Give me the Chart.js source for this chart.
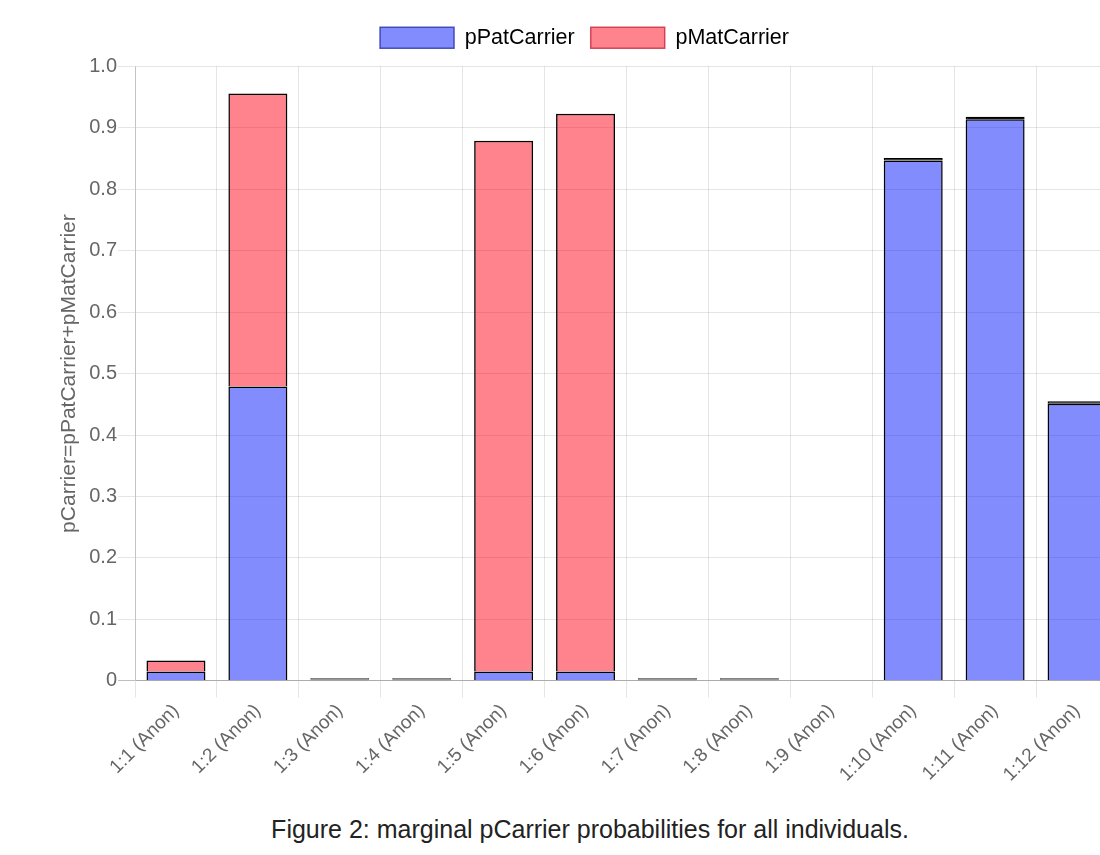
<!DOCTYPE html>
<html>
<head>
<meta charset="utf-8">
<script src="https://cdn.jsdelivr.net/npm/chart.js@4/dist/chart.umd.min.js"></script>
<style>
  html, body { margin: 0; padding: 0; background: #fff; overflow: hidden; width: 1100px; height: 855px; }
  #wrap { position: absolute; left: 46px; top: 0; width: 1072px; height: 788px; }
  #caption { position: absolute; left: 0; top: 815px; width: 1180px; text-align: center;
    font-family: "Liberation Sans", Arial, sans-serif; font-size: 25px; color: #222; }
</style>
</head>
<body>
<div id="wrap"><canvas id="c"></canvas></div>
<div id="caption">Figure 2: marginal pCarrier probabilities for all individuals.</div>
<script>
const categories = ["1:1 (Anon)", "1:2 (Anon)", "1:3 (Anon)", "1:4 (Anon)", "1:5 (Anon)", "1:6 (Anon)",
  "1:7 (Anon)", "1:8 (Anon)", "1:9 (Anon)", "1:10 (Anon)", "1:11 (Anon)", "1:12 (Anon)"];
const pPatCarrier = [0.015, 0.479, 0.002, 0.002, 0.015, 0.015, 0.002, 0.002, 0, 0.847, 0.914, 0.451];
const pMatCarrier = [0.018, 0.477, 0.002, 0.002, 0.864, 0.908, 0.002, 0.002, 0, 0.004, 0.004, 0.004];
const yTicks = [0, 0.1, 0.2, 0.3, 0.4, 0.5, 0.6, 0.7, 0.8, 0.9, 1.0];

const FONT = "'Liberation Sans', Arial, sans-serif";
Chart.defaults.font.family = FONT;
Chart.defaults.color = '#666';

const PAT_FILL = 'rgba(2,20,250,0.49)';
const MAT_FILL = 'rgba(255,2,20,0.49)';
const fillFor = (base) => (ctx) => (ctx.raw > 0 && ctx.raw < 0.005) ? '#111' : base;

const legendGap = {
  id: 'legendGap',
  beforeInit(chart) {
    const orig = chart.legend.fit;
    chart.legend.fit = function () { orig.call(this); this.height += 8; };
  }
};

new Chart(document.getElementById('c'), {
  type: 'bar',
  data: {
    labels: categories,
    datasets: [
      { label: 'pPatCarrier', data: pPatCarrier, backgroundColor: fillFor(PAT_FILL), borderColor: '#000', borderWidth: 1.5 },
      { label: 'pMatCarrier', data: pMatCarrier, backgroundColor: fillFor(MAT_FILL), borderColor: '#000', borderWidth: 1.5 }
    ]
  },
  plugins: [legendGap],
  options: {
    responsive: true,
    maintainAspectRatio: false,
    animation: false,
    layout: { padding: { left: 5, right: 0, top: 11, bottom: 0 } },
    plugins: {
      legend: {
        position: 'top',
        labels: {
          boxWidth: 74, boxHeight: 21, padding: 16,
          font: { size: 21.5 }, color: '#666',
          generateLabels: (chart) => [
            { text: 'pPatCarrier', fillStyle: PAT_FILL, strokeStyle: 'rgba(40,50,170,0.8)', lineWidth: 1.5, datasetIndex: 0, hidden: false },
            { text: 'pMatCarrier', fillStyle: MAT_FILL, strokeStyle: 'rgba(200,40,60,0.8)', lineWidth: 1.5, datasetIndex: 1, hidden: false }
          ]
        }
      },
      tooltip: { enabled: false }
    },
    scales: {
      x: {
        stacked: true,
        grid: { color: 'rgba(0,0,0,0.1)', tickLength: 17, offset: true },
        border: { color: 'rgba(0,0,0,0.1)' },
        ticks: { font: { size: 19 }, color: '#666', maxRotation: 45, minRotation: 45, padding: 2 }
      },
      y: {
        stacked: true,
        min: 0, max: 1.0,
        afterBuildTicks: (axis) => { axis.ticks = yTicks.map(v => ({ value: v })); },
        grid: {
          color: (ctx) => (ctx.tick && ctx.tick.value === 0) ? 'rgba(0,0,0,0.25)' : 'rgba(0,0,0,0.1)',
          tickLength: 17
        },
        border: { color: 'rgba(0,0,0,0.15)' },
        ticks: { font: { size: 20 }, color: '#666', padding: 1,
          callback: (v) => v === 0 ? '0' : Number(v).toFixed(1) },
        title: { display: true, text: 'pCarrier=pPatCarrier+pMatCarrier', font: { size: 21 }, color: '#666', padding: 6 }
      }
    }
  }
});
</script>
</body>
</html>
